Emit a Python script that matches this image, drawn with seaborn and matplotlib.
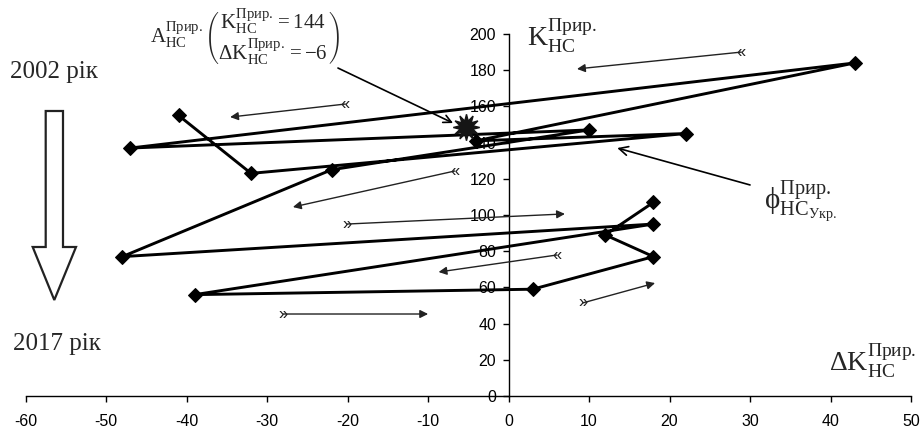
import numpy as np
import pandas as pd
import matplotlib
matplotlib.use("Agg")
import matplotlib.pyplot as plt
import seaborn as sns
from matplotlib.patches import Polygon

# trajectory 2002 -> 2017: change of coefficient (x) vs coefficient (y)
delta_k = [-41, -32, 22, -4, 43, -47, 10, -22, -48, 18, -39, 3, 18, 12, 18]
k_value = [155, 123, 145, 141, 184, 137, 147, 125, 77, 95, 56, 59, 77, 89, 107]

# average point (star)
avg_point = (-5.25, 148.5)

# small direction arrows: (tail_x, tail_y, head_x, head_y, mark)
dir_arrows = [
    (28.9, 190.0, 8.5, 180.7, "«"),
    (-20.3, 161.3, -34.6, 154.1, "«"),
    (-6.7, 124.3, -26.8, 104.4, "«"),
    (-20.1, 95.0, 7.0, 100.6, "»"),
    (6.0, 77.9, -8.7, 68.5, "«"),
    (9.2, 51.4, 18.2, 62.4, "»"),
    (-28.0, 45.3, -10.0, 45.3, "»"),
]

x_ticks = list(range(-60, 51, 10))
y_ticks = list(range(0, 201, 20))

sns.set_theme(style="white")
plt.rcParams["font.family"] = ["Liberation Sans", "DejaVu Sans"]
plt.rcParams["axes.unicode_minus"] = False
plt.rcParams["mathtext.fontset"] = "custom"
plt.rcParams["mathtext.rm"] = "Liberation Serif"
plt.rcParams["mathtext.it"] = "Liberation Serif:italic"
plt.rcParams["mathtext.bf"] = "Liberation Serif:bold"

W, H = 923, 437
fig = plt.figure(figsize=(W / 100, H / 100), dpi=100)
ax = fig.add_axes([25.7 / W, 1 - 396 / H, (911 - 25.7) / W, (396 - 34) / H])

df = pd.DataFrame({"dk": delta_k, "k": k_value})
sns.lineplot(data=df, x="dk", y="k", sort=False, estimator=None, ax=ax,
             color="black", linewidth=2.1, marker="D", markersize=7,
             markeredgecolor="black", zorder=3)

ax.plot(*avg_point, marker=(12, 1, 0), markersize=19, color="#151515", zorder=4)

ax.set_xlim(-60, 50)
ax.set_ylim(0, 200)
ax.set_xticks(x_ticks)
ax.set_yticks(y_ticks)
ax.set_xlabel("")
ax.set_ylabel("")
ax.spines["left"].set_position(("data", 0))
ax.spines["top"].set_visible(False)
ax.spines["right"].set_visible(False)
for s in ("left", "bottom"):
    ax.spines[s].set_color("black")
    ax.spines[s].set_linewidth(1.0)
ax.tick_params(bottom=True, left=True, direction="out", length=4, width=1,
               labelsize=11.5, colors="black")
ax.tick_params(axis="x", pad=9)
ax.tick_params(axis="y", pad=5)

for tx, ty, hx, hy, mark in dir_arrows:
    ax.annotate("", xy=(hx, hy), xytext=(tx, ty),
                arrowprops=dict(arrowstyle="-|>", color="#222222", lw=1.0,
                                mutation_scale=12, shrinkA=0, shrinkB=0))
    ax.text(tx, ty, mark, ha="center", va="center", fontsize=12,
            color="#222222", family="Liberation Sans")

# callout arrows
ax.annotate("", xy=(-6.9, 150.8), xytext=(-21.2, 181.2),
            arrowprops=dict(arrowstyle="->", color="black", lw=1.2,
                            mutation_scale=14, shrinkA=0, shrinkB=0))
ax.annotate("", xy=(13.5, 137.0), xytext=(30.0, 116.6),
            arrowprops=dict(arrowstyle="->", color="black", lw=1.2,
                            mutation_scale=16, shrinkA=0, shrinkB=0))

sup = r"^{\mathrm{Прир.}}_{\mathrm{НС}}"
fig.text(527 / W, 1 - 36 / H, r"$\mathrm{K}" + sup + "$", fontsize=20,
         ha="left", va="center")
fig.text(829 / W, 1 - 361 / H, r"$\Delta\mathrm{K}" + sup + "$", fontsize=20,
         ha="left", va="center")
fig.text(764 / W, 1 - 201 / H,
         r"$\mathrm{ϕ}^{\mathrm{Прир.}}_{\mathrm{НС}_{\mathrm{Укр.}}}$",
         fontsize=21, ha="left", va="center")
fig.text(150 / W, 1 - 37 / H,
         r"$\mathrm{A}" + sup + r"\genfrac{(}{)}{0}{0}{\mathrm{K}" + sup +
         r"=144}{\Delta\mathrm{K}" + sup + r"=-6}$",
         fontsize=15, ha="left", va="center")

fig.text(10 / W, 1 - 78 / H, "2002 рік", fontsize=18, family="Liberation Serif",
         ha="left", va="baseline")
fig.text(13 / W, 1 - 350 / H, "2017 рік", fontsize=18, family="Liberation Serif",
         ha="left", va="baseline")

# big hollow arrow
pts = [(45.7, 111), (63, 111), (63, 247), (76, 247), (54.3, 300),
       (32.7, 247), (45.7, 247)]
fig.add_artist(Polygon([(x / W, 1 - y / H) for x, y in pts], closed=True,
                       transform=fig.transFigure, facecolor="white",
                       edgecolor="#222222", linewidth=1.6))

fig.savefig("out.png", dpi=100)
